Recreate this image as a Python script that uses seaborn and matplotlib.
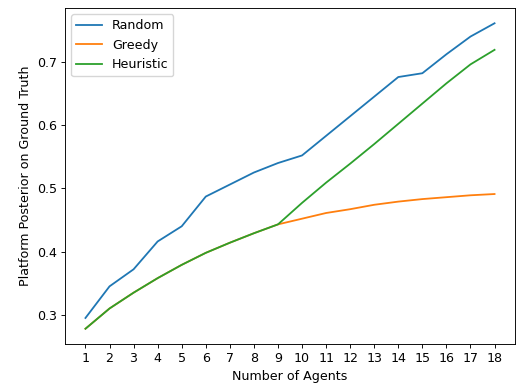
import matplotlib
matplotlib.use("Agg")
import matplotlib.pyplot as plt
import seaborn as sns
import pandas as pd

agents = list(range(1, 19))
random_vals = [0.295, 0.345, 0.372, 0.416, 0.440, 0.487, 0.506, 0.525, 0.540, 0.552,
               0.583, 0.614, 0.645, 0.676, 0.682, 0.712, 0.740, 0.761]
greedy_vals = [0.278, 0.310, 0.335, 0.358, 0.379, 0.398, 0.414, 0.429, 0.443, 0.452,
               0.461, 0.467, 0.474, 0.479, 0.483, 0.486, 0.489, 0.491]
heuristic_vals = [0.278, 0.310, 0.335, 0.358, 0.379, 0.398, 0.414, 0.429, 0.443, 0.477,
                  0.509, 0.539, 0.570, 0.602, 0.634, 0.666, 0.696, 0.719]
series_names = ["Random", "Greedy", "Heuristic"]

df = pd.DataFrame({
    "agents": agents * 3,
    "value": random_vals + greedy_vals + heuristic_vals,
    "method": sum([[n] * len(agents) for n in series_names], []),
})

s = 0.82
plt.rcParams.update({
    "font.size": 9.1,
    "axes.linewidth": 0.8 * s,
    "xtick.major.size": 3.5 * s,
    "ytick.major.size": 3.5 * s,
    "xtick.major.width": 0.8 * s,
    "ytick.major.width": 0.8 * s,
    "xtick.major.pad": 3.5 * s,
    "ytick.major.pad": 3.5 * s,
    "axes.labelpad": 4.0 * s,
})

fig = plt.figure(figsize=(5.16, 3.83), dpi=100)
ax = fig.add_axes([65 / 516, 1 - 344 / 383, 450 / 516, 336 / 383])
sns.lineplot(data=df, x="agents", y="value", hue="method", hue_order=series_names,
             palette=["#1f77b4", "#ff7f0e", "#2ca02c"], ax=ax, linewidth=1.3)
ax.set_xticks(agents)
ax.set_xlabel("Number of Agents")
ax.set_ylabel("Platform Posterior on Ground Truth")
ax.legend(loc="upper left")
fig.savefig("out.png", dpi=100)
